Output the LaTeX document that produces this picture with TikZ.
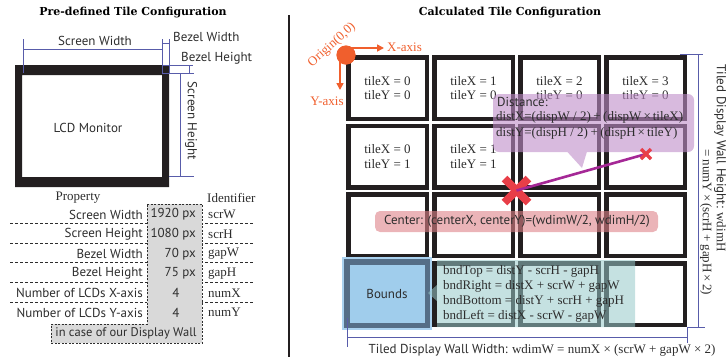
\documentclass[tikz,border=0pt]{standalone}
\usepackage{fontspec}
\setmainfont{Liberation Serif}
\newfontfamily\sansf{PT Sans}
\newfontfamily\titlef{DejaVu Serif}
\usetikzlibrary{arrows.meta}
\definecolor{dimblue}{RGB}{88,92,170}
\definecolor{tileblack}{RGB}{35,31,32}
\definecolor{txtgray}{RGB}{45,45,45}
\definecolor{boxgray}{RGB}{217,217,217}
\definecolor{orig}{RGB}{240,95,45}
\definecolor{xred}{RGB}{232,62,72}
\definecolor{mag}{RGB}{165,40,150}
\definecolor{pinkbox}{RGB}{222,130,136}
\definecolor{purpbox}{RGB}{190,140,200}
\definecolor{tealbox}{RGB}{150,200,200}
\definecolor{bndfill}{RGB}{160,205,236}
\definecolor{bndedge}{RGB}{85,110,135}
\definecolor{halo}{RGB}{170,210,240}
\newcommand{\wplus}{\hspace{2.5pt}+\hspace{2.5pt}}
\newcommand{\wtimes}{\hspace{2pt}×\hspace{2pt}}
\begin{document}
\begin{tikzpicture}[x=1pt,y=-1pt,
  every node/.style={inner sep=0pt, text=txtgray},
  sans/.style={font=\sansf\fontsize{13}{15}\selectfont},
  serif/.style={font=\fontsize{13}{15}\selectfont},
  titletxt/.style={font=\titlef\bfseries\fontsize{11}{12}\selectfont, text=black},
  dimline/.style={draw=dimblue, line width=0.8pt},
  tabledash/.style={draw=txtgray, line width=0.7pt, dash pattern=on 3pt off 2pt},
  graybox/.style={fill=boxgray, draw=txtgray, line width=0.7pt, dash pattern=on 2pt off 1.5pt},
  tile/.style={draw=tileblack, line width=4.5pt, minimum width=78.5pt, minimum height=61.5pt},
  tiletext/.style={font=\fontsize{13}{14.5}\selectfont, align=left},
  axisarrow/.style={draw=orig, line width=1.6pt, -{Triangle[length=7pt,width=7pt]}},
  origtext/.style={font=\fontsize{13}{15}\selectfont, text=orig},
  xmark/.style={draw=xred, line cap=butt},
]
\useasboundingbox (0,0) rectangle (726,360);

% divider
\coordinate (divtop) at (289,15);
\coordinate (divbot) at (289,357);
\draw[line width=1.5pt, draw=tileblack] (divtop) -- (divbot);

% titles
\node[titletxt] (ltitle) at (133,13) {Pre-defined Tile Configuration};
\node[titletxt] (rtitle) at (510,13) {Calculated Tile Configuration};

% ---------- LCD monitor ----------
\fill[tileblack, even odd rule] (15,65) rectangle (169,187) (22,75) rectangle (162,177);
\node[sans] (lcd) at (88,128) {LCD Monitor};

\draw[dimline] (23,39) -- (23,73);
\draw[dimline] (162,39) -- (162,73);
\draw[dimline] (169,39) -- (169,73);
\coordinate (swL) at (23,49);
\coordinate (swR) at (162,49);
\draw[dimline] (swL) -- (swR);
\draw[dimline] (162,43) -- (169,43);
\draw[dimline] (162,65) -- (193,65);
\draw[dimline] (162,73) -- (194,73);
\draw[dimline] (189,65) -- (189,73);
\draw[dimline] (180,73) -- (180,176);
\draw[dimline] (169,176) -- (194,176);

\node[sans] (swtxt) at (95,41) {Screen Width};
\node[sans, anchor=west] (bwtxt) at (173,37) {Bezel Width};
\node[sans, anchor=west] (bhtxt) at (181,58) {Bezel Height};
\node[sans, rotate=-90] (shtxt) at (191,121) {Screen Height};

% ---------- table ----------
\foreach \yy in {223,243,262,282,302} \draw[tabledash] (10,\yy) -- (253,\yy);
\draw[graybox] (147,204) -- (202,204) -- (202,343) -- (51,343) -- (51,324) -- (147,324) -- cycle;

\node[serif] (hprop) at (78,198) {Property};
\node[serif, anchor=west] (hid) at (207,198) {Identifier};

\node[sans, anchor=east] (p1) at (143,214.5) {Screen Width};
\node[sans, anchor=east] (p2) at (143,234.1) {Screen Height};
\node[sans, anchor=east] (p3) at (143,253.7) {Bezel Width};
\node[sans, anchor=east] (p4) at (143,273.3) {Bezel Height};
\node[sans, anchor=east] (p5) at (143,292.9) {Number of LCDs X-axis};
\node[sans, anchor=east] (p6) at (143,312.5) {Number of LCDs Y-axis};

\node[sans, anchor=east] (v1) at (196,214.5) {1920 px};
\node[sans, anchor=east] (v2) at (196,234.1) {1080 px};
\node[sans, anchor=east] (v3) at (196,253.7) {70 px};
\node[sans, anchor=east] (v4) at (196,273.3) {75 px};
\node[sans] (v5) at (176,292.9) {4};
\node[sans] (v6) at (176,312.5) {4};

\node[serif, anchor=west] (i1) at (208,214.5) {scrW};
\node[serif, anchor=west] (i2) at (208,234.1) {scrH};
\node[serif, anchor=west] (i3) at (208,253.7) {gapW};
\node[serif, anchor=west] (i4) at (208,273.3) {gapH};
\node[serif, anchor=west] (i5) at (208,292.9) {numX};
\node[serif, anchor=west] (i6) at (208,312.5) {numY};

\node[font=\sansf\fontsize{12.5}{15}\selectfont] (note) at (126,333) {in case of our Display Wall};

% ---------- tiles ----------
\foreach \c in {0,...,3} {
  \foreach \r in {0,...,3} {
    \node[tile] (t\c\r) at ({387.5+86*\c},{88+68.7*\r}) {};
  }
}
\foreach \c in {0,...,3} {
  \node[tiletext] at (t\c0) {tileX = \c\\tileY = 0};
}
\node[tiletext] at (t01) {tileX = 0\\tileY = 1};
\node[tiletext] at (t11) {tileX = 1\\tileY = 1};

% bounds tile
\node[draw=halo, line width=1.2pt, minimum width=88pt, minimum height=71pt] (bhalo) at (387,293.5) {};
\node[fill=bndfill, draw=bndedge, line width=5.5pt, minimum width=80.5pt, minimum height=63.5pt, sans] (bounds) at (387,293.5) {Bounds};

% origin & axes
\coordinate (xtip) at (384,48);
\coordinate (ytip) at (340,90);
\node[circle, fill=orig, minimum size=19pt] (origin) at (346,55) {};
\draw[axisarrow] ([shift={(2,-7)}]origin.center) -- (xtip);
\draw[axisarrow] ([shift={(-6,2)}]origin.center) -- (ytip);
\node[circle, fill=orig, minimum size=19pt] at (origin) {};
\node[origtext, anchor=west] (xlab) at (387,47) {X-axis};
\node[origtext] (ylab) at (327,101) {Y-axis};
\node[origtext, rotate=42] (olab) at (332,45) {Origin(0,0)};

% distance callout
\fill[purpbox, fill opacity=0.6] [rounded corners=6pt] (493,94) rectangle (694,152)
  [sharp corners] (567,151.5) -- (582,168) -- (587,151.5) -- cycle;
\node[sans, anchor=west] (dist0) at (497,102) {Distance:};
\node[serif, anchor=west] (dist1) at (496,117.5) {distX=(dispW / 2)\wplus(dispW\wtimes tileX)};
\node[serif, anchor=west] (dist2) at (496,133) {distY=(dispH / 2)\wplus(dispH\wtimes tileY)};

% center label
\fill[pinkbox, fill opacity=0.6, rounded corners=5pt] (375,211) rectangle (658,232);
\node[sans] (ctext) at (517,221.5) {Center: (centerX, centerY)=(wdimW/2, wdimH/2)};

% bounds callout
\fill[tealbox, fill opacity=0.55] (437,260) rectangle (635,327)
  (437,285) -- (428,293) -- (437,301) -- cycle;
\node[serif, anchor=west] (b1) at (443,271) {bndTop = distY - scrH - gapH};
\node[serif, anchor=west] (b2) at (443,286) {bndRight = distX + scrW + gapW};
\node[serif, anchor=west] (b3) at (443,301) {bndBottom = distY + scrH + gapH};
\node[serif, anchor=west] (b4) at (443,316) {bndLeft = distX - scrW - gapW};

% center mark and distance line
\coordinate (cmark) at (516.5,190.5);
\coordinate (tmark) at (646,154);
\draw[xmark, line width=8pt] ([shift={(-12,-12)}]cmark) -- ([shift={(12,12)}]cmark);
\draw[xmark, line width=8pt] ([shift={(-12,12)}]cmark) -- ([shift={(12,-12)}]cmark);
\draw[draw=mag, line width=2.6pt] (cmark) -- (tmark);
\draw[xmark, line width=3.5pt] ([shift={(-5,-5)}]tmark) -- ([shift={(5,5)}]tmark);
\draw[xmark, line width=3.5pt] ([shift={(-5,5)}]tmark) -- ([shift={(5,-5)}]tmark);

% right dimension
\coordinate (rdTop) at (698,54);
\coordinate (rdBot) at (698,327);
\draw[dimline] (rdTop) -- (rdBot);
\draw[dimline] (680,54) -- (703,54);
\draw[dimline] (687,327) -- (705,327);
\node[rotate=-90] (rtext1) at (720,158) {{\sansf\fontsize{13}{15}\selectfont Tiled Display Wall Height:}\fontsize{13}{15}\selectfont{} wdimH};
\node[serif, rotate=-90] (rtext2) at (706,222) {= numY\wtimes(scrH\wplus gapH\wtimes 2)};

% bottom dimension
\coordinate (bdL) at (347,337);
\coordinate (bdR) at (687,337);
\draw[dimline] (bdL) -- (bdR);
\draw[dimline] (347,318) -- (347,347);
\draw[dimline] (687,327) -- (687,343);
\node (btext) at (542,350) {{\sansf\fontsize{13}{15}\selectfont Tiled Display Wall Width:}\fontsize{13}{15}\selectfont{} wdimW = numX × (scrW + gapW × 2)};
\end{tikzpicture}
\end{document}
